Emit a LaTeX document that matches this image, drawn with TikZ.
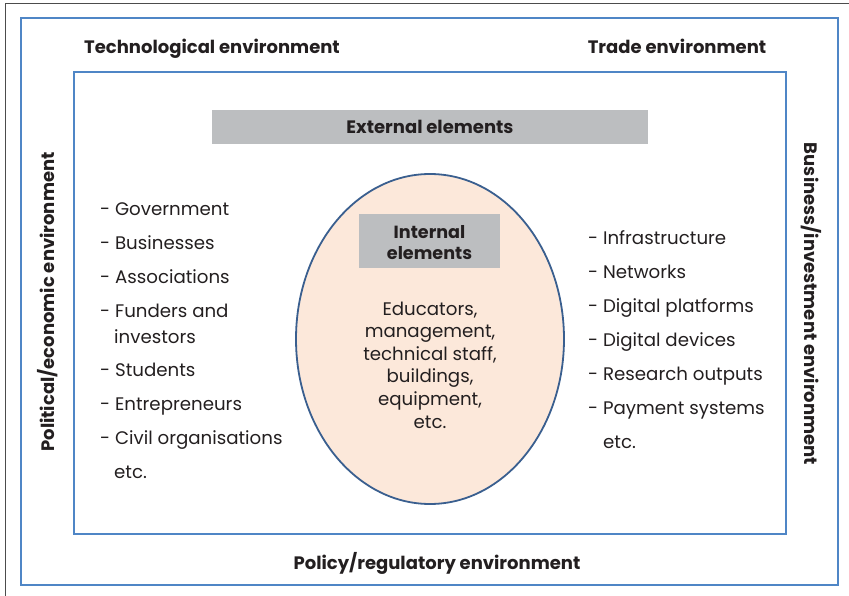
\documentclass[tikz,border=0pt]{standalone}
\usepackage{fontspec}
\setmainfont{Poppins}
\usetikzlibrary{shapes.geometric}
\definecolor{boxblue}{HTML}{4F86C6}
\definecolor{ellblue}{HTML}{3A5F8F}
\definecolor{peach}{HTML}{FCE8DA}
\definecolor{barg}{HTML}{BCBEC0}
\definecolor{txt}{HTML}{231F20}
\begin{document}
\begin{tikzpicture}[x=1pt,y=-1pt,
  frame/.style={draw=boxblue, line width=2pt, inner sep=0pt},
  bar/.style={fill=barg, inner sep=0pt},
  envlabel/.style={text=txt, font=\fontsize{18}{21}\selectfont\bfseries, inner sep=0pt},
  item/.style={text=txt, font=\fontsize{18.2}{20}\selectfont, anchor=base west, inner sep=0pt},
  body/.style={text=txt, font=\fontsize{18.2}{22.6}\selectfont, align=center, inner sep=0pt}]
\useasboundingbox (0,0) rectangle (849,596);
\draw[gray!60!black, line width=0.8pt] (849,3) -- (5,3) -- (5,596);
\node[frame, minimum width=817pt, minimum height=566pt] (outer) at (429,301.5) {};
\node[frame, minimum width=712pt, minimum height=462pt] (inner) at (430,303) {};
\node[bar, minimum width=436pt, minimum height=34pt] (ext) at (430,127) {};
\node[envlabel] (extl) at (430,127) {External elements};
\node[ellipse, draw=ellblue, line width=1.8pt, fill=peach, minimum width=268pt, minimum height=330pt, inner sep=0pt] (ell) at (430,339) {};
\node[bar, minimum width=141pt, minimum height=54pt] (intb) at (429.5,241) {};
\node[envlabel, align=center, font=\fontsize{17.6}{21}\selectfont\bfseries] (intl) at (429.5,242.5) {Internal\\elements};
\node[body] (intbody) at (430,365) {Educators,\\management,\\technical staff,\\buildings,\\equipment,\\etc.};
\node[envlabel] (tech) at (212,48.5) {Technological environment};
\node[envlabel] (trade) at (677,46) {Trade environment};
\node[envlabel] (policy) at (437,563.5) {Policy/regulatory environment};
\node[envlabel, rotate=90] (polit) at (48,302) {Political/economic environment};
\node[envlabel, rotate=-90] (busi) at (811,304) {Business/investment environment};
% left list
\node[item] (l1) at (100,215.5) {- Government};
\node[item] (l2) at (100,249.5) {- Businesses};
\node[item] (l3) at (100,283.5) {- Associations};
\node[item] (l4) at (100,317.5) {- Funders and};
\node[item] (l4b) at (114,343.5) {investors};
\node[item] (l5) at (100,376.5) {- Students};
\node[item] (l6) at (100,410.5) {- Entrepreneurs};
\node[item] (l7) at (100,444.5) {- Civil organisations};
\node[item] (l8) at (114,478.5) {etc.};
% right list
\node[item] (r1) at (588,244.5) {- Infrastructure};
\node[item] (r2) at (588,278.5) {- Networks};
\node[item] (r3) at (588,312.5) {- Digital platforms};
\node[item] (r4) at (588,346.5) {- Digital devices};
\node[item] (r5) at (588,380.5) {- Research outputs};
\node[item] (r6) at (588,414.5) {- Payment systems};
\node[item] (r7) at (603,448.5) {etc.};
\end{tikzpicture}
\end{document}
